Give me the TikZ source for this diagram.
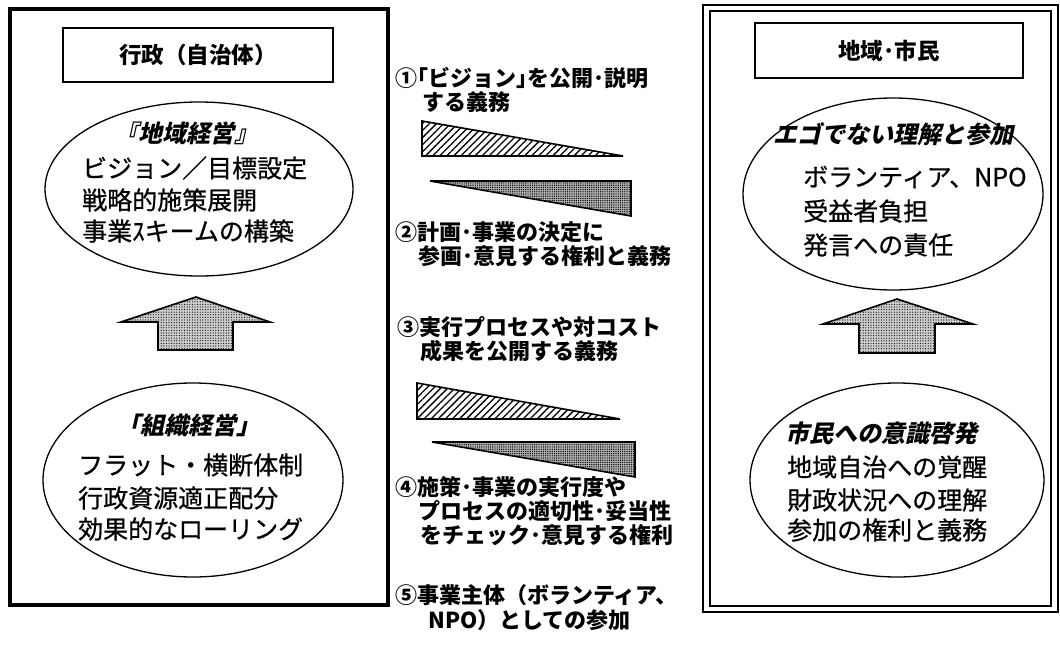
\documentclass[tikz,border=0pt]{standalone}
\usepackage{fontspec}
\setmainfont{Noto Sans CJK JP}
\newfontfamily\jpi{Noto Sans CJK JP}[FakeSlant=0.22]
\newfontfamily\jpm{Noto Sans CJK JP}[FakeBold=0.7]
\usetikzlibrary{shapes.geometric,patterns.meta}
\tikzset{
 frame/.style={draw, line width=3.2pt},
 titlebox/.style={draw, line width=1.6pt, inner sep=0pt, font=\bfseries\fontsize{22.5}{26}\selectfont},
 oval/.style={draw, ellipse, line width=1.3pt, inner sep=0pt},
 heading/.style={font=\jpi\bfseries\fontsize{24}{28}\selectfont, inner sep=0pt},
 body/.style={font=\jpm\fontsize{25}{32}\selectfont, anchor=west, inner sep=0pt},
 mid/.style={font=\bfseries\fontsize{22}{26}\selectfont, anchor=west, inner sep=0pt},
 uparrow/.style={draw, line width=1.6pt, line join=miter, preaction={fill=gray!40}, pattern={Dots[distance=2.6pt,radius=0.6pt]}},
 hatchtri/.style={draw, line width=1.6pt, line join=miter, pattern={Lines[angle=45,distance=5pt,line width=1.3pt]}},
 darktri/.style={draw, line width=1.6pt, line join=miter, preaction={fill=gray!60}, pattern={Dots[distance=2.2pt,radius=0.7pt]}},
}
\begin{document}
\begin{tikzpicture}[x=1pt,y=-1pt]
\useasboundingbox (0,0) rectangle (1060,645);
% left frame
\draw[frame] (10,9) rectangle (388,605);
% right double frame
\draw[line width=2.8pt] (703,5) rectangle (1058,612);
\draw[line width=1.8pt] (710,11) rectangle (1051,606);
% title boxes
\node[titlebox, minimum width=270pt, minimum height=54pt] (t1) at (198,55) {行政（自治体）};
\node[titlebox, minimum width=268pt, minimum height=55pt] (t2) at (889,50.5) {地域･市民};
% ellipses
\node[oval, minimum width=308pt, minimum height=174pt] (e1) at (199,189) {};
\node[oval, minimum width=300pt, minimum height=194pt] (e2) at (193,480) {};
\node[oval, minimum width=300pt, minimum height=192pt] (e3) at (893,194) {};
\node[oval, minimum width=294pt, minimum height=194pt] (e4) at (897,480) {};
% left top texts
\node[heading] (h1) at (186,133) {『地域経営』};
\node[body] (a1) at (82,168) {ビジョン／目標設定};
\node[body] (a2) at (82,200) {戦略的施策展開};
\node[body] (a3) at (82,231) {事業ｽキームの構築};
% left bottom texts
\node[heading] (h2) at (188,425) {「組織経営」};
\node[body] (b1) at (78,465) {フラット・横断体制};
\node[body] (b2) at (78,498) {行政資源適正配分};
\node[body] (b3) at (78,529) {効果的なローリング};
% right top texts
\node[heading, anchor=west] (h3) at (773,134) {エゴでない理解と参加};
\node[body] (c1) at (803,177) {ボランティア、NPO};
\node[body] (c2) at (803,211) {受益者負担};
\node[body] (c3) at (803,245) {発言への責任};
% right bottom texts
\node[heading, anchor=west] (h4) at (785,433) {市民への意識啓発};
\node[body] (d1) at (787,467) {地域自治への覚醒};
\node[body] (d2) at (787,500) {財政状況への理解};
\node[body] (d3) at (787,530) {参加の権利と義務};
% up arrows
\draw[uparrow] (158,350) -- (158,322) -- (121,322) -- (196,297) -- (270,322) -- (233,322) -- (233,350) -- cycle;
\draw[uparrow] (859,353) -- (859,324) -- (823,324) -- (897,299) -- (973,324) -- (935,324) -- (935,353) -- cycle;
% middle texts
\node[mid] (m1) at (395,78) {①｢ビジョン｣を公開･説明};
\node[mid] (m1b) at (422,102) {する義務};
\node[mid] (m2) at (395,232) {②計画･事業の決定に};
\node[mid] (m2b) at (418,256) {参画･意見する権利と義務};
\node[mid] (m3) at (397,327) {③実行プロセスや対コスト};
\node[mid] (m3b) at (420,351) {成果を公開する義務};
\node[mid] (m4) at (395,487) {④施策･事業の実行度や};
\node[mid] (m4b) at (418,511) {プロセスの適切性･妥当性};
\node[mid] (m4c) at (420,535) {をチェック･意見する権利};
\node[mid] (m5) at (395,595) {⑤事業主体（ボランティア、};
\node[mid] (m5b) at (428,620) {NPO）としての参加};
% triangles
\draw[hatchtri] (422,121) -- (422,156) -- (623,156) -- cycle;
\draw[darktri] (430,181) -- (631,181) -- (631,216) -- cycle;
\draw[hatchtri] (417,383) -- (417,419) -- (620,419) -- cycle;
\draw[darktri] (432,442) -- (635,442) -- (635,477) -- cycle;
\end{tikzpicture}
\end{document}
